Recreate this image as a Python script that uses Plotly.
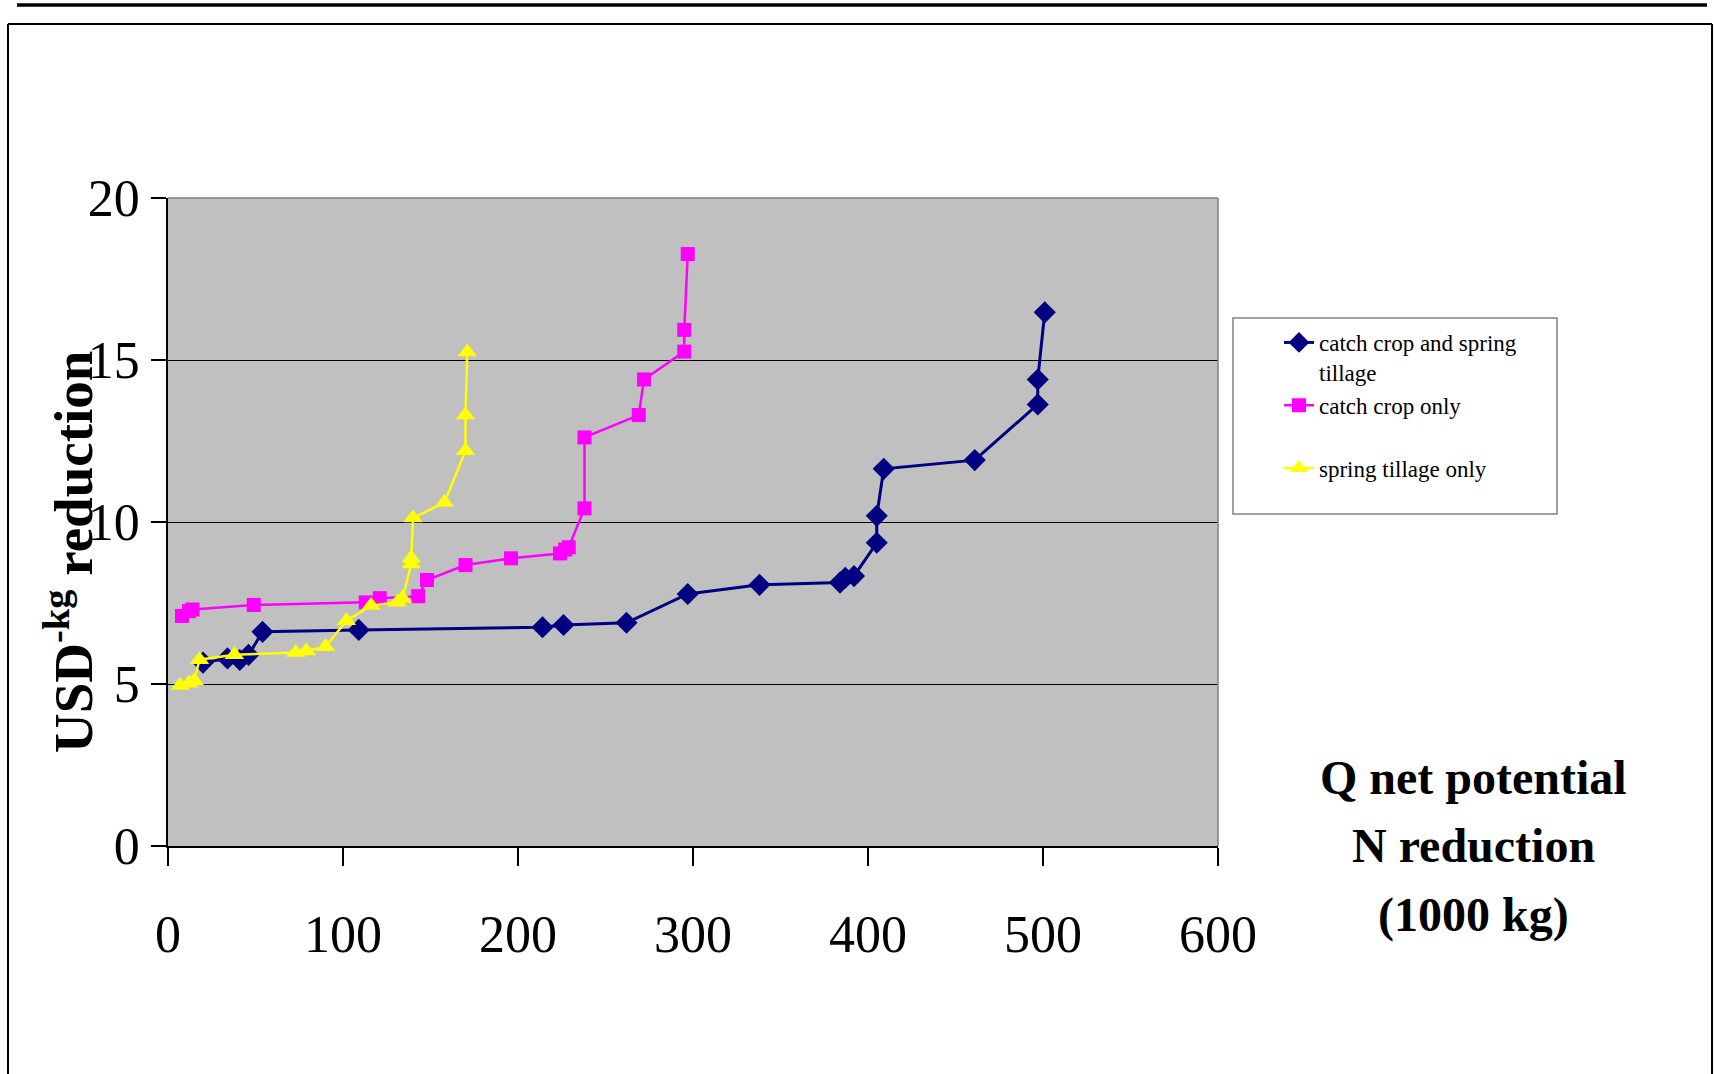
import plotly.graph_objects as go

# ---- data ----
both_x = [20, 34, 41, 46, 54, 109, 214, 226, 262, 297, 338, 384, 387, 392, 405, 405, 409, 461, 497, 497, 501]
both_y = [5.66, 5.79, 5.74, 5.9, 6.61, 6.67, 6.75, 6.82, 6.89, 7.78, 8.06, 8.13, 8.28, 8.33, 9.36, 10.19, 11.64, 11.91, 13.63, 14.4, 16.47]

catch_x = [8, 12, 14, 49, 113, 121, 143, 148, 170, 196, 224, 227, 229, 238, 238, 269, 272, 295, 295, 297]
catch_y = [7.1, 7.25, 7.3, 7.44, 7.52, 7.65, 7.71, 8.21, 8.67, 8.88, 9.03, 9.15, 9.22, 10.42, 12.61, 13.3, 14.4, 15.26, 15.93, 18.27]

spring_x = [7, 12, 15, 18, 38, 73, 79, 90, 102, 116, 131, 134, 139, 139, 140, 158, 170, 170, 171]
spring_y = [4.95, 5.02, 5.1, 5.75, 5.9, 5.97, 6.02, 6.15, 6.95, 7.42, 7.52, 7.65, 8.7, 8.88, 10.12, 10.6, 12.2, 13.3, 15.25]

series_names = ["catch crop and spring<br>tillage", "catch crop only<br>&nbsp;", "spring tillage only<br>&nbsp;"]
x_ticks = [0, 100, 200, 300, 400, 500, 600]
y_ticks = [0, 5, 10, 15, 20]
x_title_lines = ["Q net potential", "N reduction", "(1000 kg)"]

# ---- layout geometry (pixels) ----
W, H = 1716, 1074
L, R, T, B = 168, 1218, 198, 846
PW, PH = R - L, B - T


def px(x):
    return (x - L) / PW


def py(y):
    return (B - y) / PH


SERIF = "Liberation Serif"

fig = go.Figure()
fig.add_trace(go.Scatter(x=both_x, y=both_y, mode="lines+markers", name=series_names[0],
                         line=dict(color="#000080", width=3),
                         marker=dict(symbol="diamond", size=17, color="#000080")))
fig.add_trace(go.Scatter(x=catch_x, y=catch_y, mode="lines+markers", name=series_names[1],
                         line=dict(color="#FF00FF", width=2.5),
                         marker=dict(symbol="square", size=14, color="#FF00FF")))
fig.add_trace(go.Scatter(x=spring_x, y=spring_y, mode="lines+markers", name=series_names[2],
                         line=dict(color="#FFFF00", width=2.5),
                         marker=dict(symbol="triangle-up", size=17, color="#FFFF00")))

shapes = [
    # thick rule at top of page
    dict(type="line", xref="paper", yref="paper", x0=px(17), x1=px(1707), y0=py(5), y1=py(5),
         line=dict(color="black", width=3.5)),
    # outer frame (top, left, right)
    dict(type="line", xref="paper", yref="paper", x0=px(8), x1=px(1712), y0=py(24), y1=py(24),
         line=dict(color="black", width=2)),
    dict(type="line", xref="paper", yref="paper", x0=px(8), x1=px(8), y0=py(24), y1=py(1080),
         line=dict(color="black", width=2)),
    dict(type="line", xref="paper", yref="paper", x0=px(1712), x1=px(1712), y0=py(24), y1=py(1080),
         line=dict(color="black", width=2)),
    # plot area border (grey top/right)
    dict(type="line", xref="paper", yref="paper", x0=0, x1=1, y0=1, y1=1,
         line=dict(color="#808080", width=1.5), layer="above"),
    dict(type="line", xref="paper", yref="paper", x0=1, x1=1, y0=0, y1=1,
         line=dict(color="#808080", width=1.5), layer="above"),
    # legend box
    dict(type="rect", xref="paper", yref="paper", x0=px(1233), x1=px(1557), y0=py(318), y1=py(514),
         line=dict(color="#808080", width=1.5), fillcolor="white", layer="above"),
]

annotations = [
    dict(xref="paper", yref="paper", x=px(69), y=py(552), text="USD<sup>-kg</sup> reduction",
         textangle=-90, showarrow=False, xanchor="center", yanchor="middle",
         font=dict(family=SERIF, size=55, color="black", weight="bold")),
]
for line_text, y_pix in zip(x_title_lines, [777, 845, 915]):
    annotations.append(dict(xref="paper", yref="paper", x=px(1473), y=py(y_pix), text=line_text,
                            showarrow=False, xanchor="center", yanchor="middle",
                            font=dict(family=SERIF, size=48, color="black", weight="bold")))

fig.update_layout(
    width=W, height=H, autosize=False,
    margin=dict(l=L, r=W - R, t=T, b=H - B, pad=0),
    paper_bgcolor="white", plot_bgcolor="#C0C0C0",
    shapes=shapes, annotations=annotations,
    showlegend=True,
    legend=dict(x=px(1279), y=py(321), xanchor="left", yanchor="top",
                bgcolor="rgba(0,0,0,0)", borderwidth=0, valign="top",
                font=dict(family=SERIF, size=23, color="black"), tracegroupgap=0),
    xaxis=dict(range=[0, 600], tickvals=x_ticks, ticktext=[str(v) for v in x_ticks],
               showgrid=False, zeroline=False, showline=True, linecolor="black", linewidth=1.5,
               ticks="outside", ticklen=18, tickwidth=1.5, tickcolor="black",
               ticklabelstandoff=24,
               tickfont=dict(family=SERIF, size=52, color="black")),
    yaxis=dict(range=[0, 20], tickvals=y_ticks, ticktext=[str(v) for v in y_ticks],
               showgrid=True, gridcolor="black", gridwidth=1, zeroline=False,
               showline=True, linecolor="black", linewidth=1.5,
               ticks="outside", ticklen=15, tickwidth=1.5, tickcolor="black",
               ticklabelstandoff=1,
               tickfont=dict(family=SERIF, size=52, color="black")),
)

fig.write_html("out.html", config={"displayModeBar": False},
               post_script="document.body.style.margin='0';document.body.style.overflow='hidden';")
